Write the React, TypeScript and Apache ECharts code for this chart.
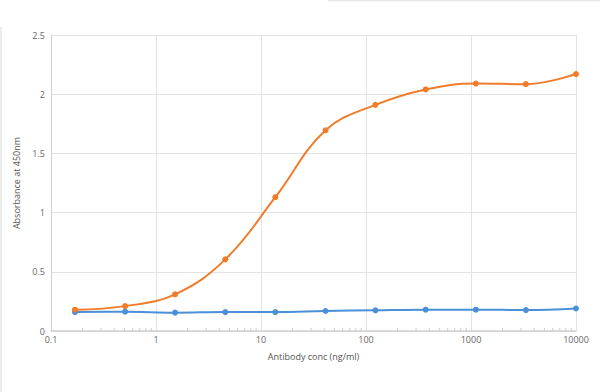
import React, { useEffect, useRef } from "react";
import * as echarts from "echarts";

const concentrations = [0.169, 0.508, 1.52, 4.57, 13.7, 41.2, 123, 370, 1111, 3333, 10000];
const orangeValues = [0.18, 0.21, 0.31, 0.605, 1.13, 1.695, 1.91, 2.04, 2.09, 2.085, 2.17];
const blueValues = [0.16, 0.163, 0.155, 0.16, 0.16, 0.169, 0.175, 0.18, 0.18, 0.177, 0.19];
const minorTickValues = [
  0.2, 0.3, 0.4, 0.5, 0.6, 0.7, 0.8, 0.9,
  2, 3, 4, 5, 6, 7, 8, 9,
  20, 30, 40, 50, 60, 70, 80, 90,
  200, 300, 400, 500, 600, 700, 800, 900,
  2000, 3000, 4000, 5000, 6000, 7000, 8000, 9000,
];

const FONT = "'Open Sans', sans-serif";

export default function App() {
  const ref = useRef<HTMLDivElement>(null);
  useEffect(() => {
    if (!ref.current) return;
    const chart = echarts.init(ref.current, null, { renderer: "svg" });
    chart.setOption({
      animation: false,
      backgroundColor: "#ffffff",
      grid: { left: 51, right: 24, top: 35, bottom: 61, containLabel: false },
      xAxis: {
        type: "log",
        logBase: 10,
        min: 0.1,
        max: 10000,
        name: "Antibody conc (ng/ml)",
        nameLocation: "middle",
        nameGap: 21,
        nameTextStyle: { color: "#555", fontSize: 9, fontFamily: FONT },
        axisLine: { show: true, lineStyle: { color: "#d0d0d0", width: 1.5 } },
        axisTick: { show: false },
        axisLabel: {
          color: "#666",
          fontSize: 9,
          fontFamily: FONT,
          margin: 4,
          formatter: (v: number) => String(Math.round(v * 10) / 10),
        },
        splitLine: { show: true, lineStyle: { color: "#e3e3e3", width: 1 } },
      },
      yAxis: {
        type: "value",
        min: 0,
        max: 2.5,
        interval: 0.5,
        name: "Absorbance at 450nm",
        nameLocation: "middle",
        nameGap: 30,
        nameTextStyle: { color: "#555", fontSize: 9, fontFamily: FONT },
        axisLine: { show: true, lineStyle: { color: "#d0d0d0", width: 1 } },
        axisTick: { show: false },
        axisLabel: { color: "#666", fontSize: 9, fontFamily: FONT, margin: 6 },
        splitLine: { show: true, lineStyle: { color: "#e3e3e3", width: 1 } },
      },
      graphic: [
        { type: "line", shape: { x1: 1, y1: 27, x2: 1, y2: 392 }, style: { stroke: "#e6e6e6", lineWidth: 1.5 } },
        { type: "line", shape: { x1: 328, y1: 0.5, x2: 600, y2: 0.5 }, style: { stroke: "#e6e6e6", lineWidth: 1.5 } },
      ],
      series: [
        {
          type: "custom",
          silent: true,
          data: minorTickValues.map((v) => [v, 0]),
          renderItem: (params: any, api: any) => {
            const p = api.coord([api.value(0), 0]);
            return {
              type: "line",
              shape: { x1: p[0], y1: p[1] - 3, x2: p[0], y2: p[1] },
              style: { stroke: "#cccccc", lineWidth: 1 },
            };
          },
          z: 1,
        },
        {
          type: "line",
          data: concentrations.map((c, i) => [c, blueValues[i]]),
          smooth: 0.4,
          symbol: "circle",
          symbolSize: 6,
          lineStyle: { color: "#4a90d9", width: 2 },
          itemStyle: { color: "#4a90d9" },
          z: 3,
        },
        {
          type: "line",
          data: concentrations.map((c, i) => [c, orangeValues[i]]),
          smooth: 0.4,
          symbol: "circle",
          symbolSize: 6,
          lineStyle: { color: "#f07c2a", width: 2 },
          itemStyle: { color: "#f07c2a" },
          z: 4,
        },
      ],
    });
    return () => chart.dispose();
  }, []);
  return (
    <div
      ref={ref}
      style={{ position: "fixed", left: 0, top: 0, width: 600, height: 392 }}
    />
  );
}
